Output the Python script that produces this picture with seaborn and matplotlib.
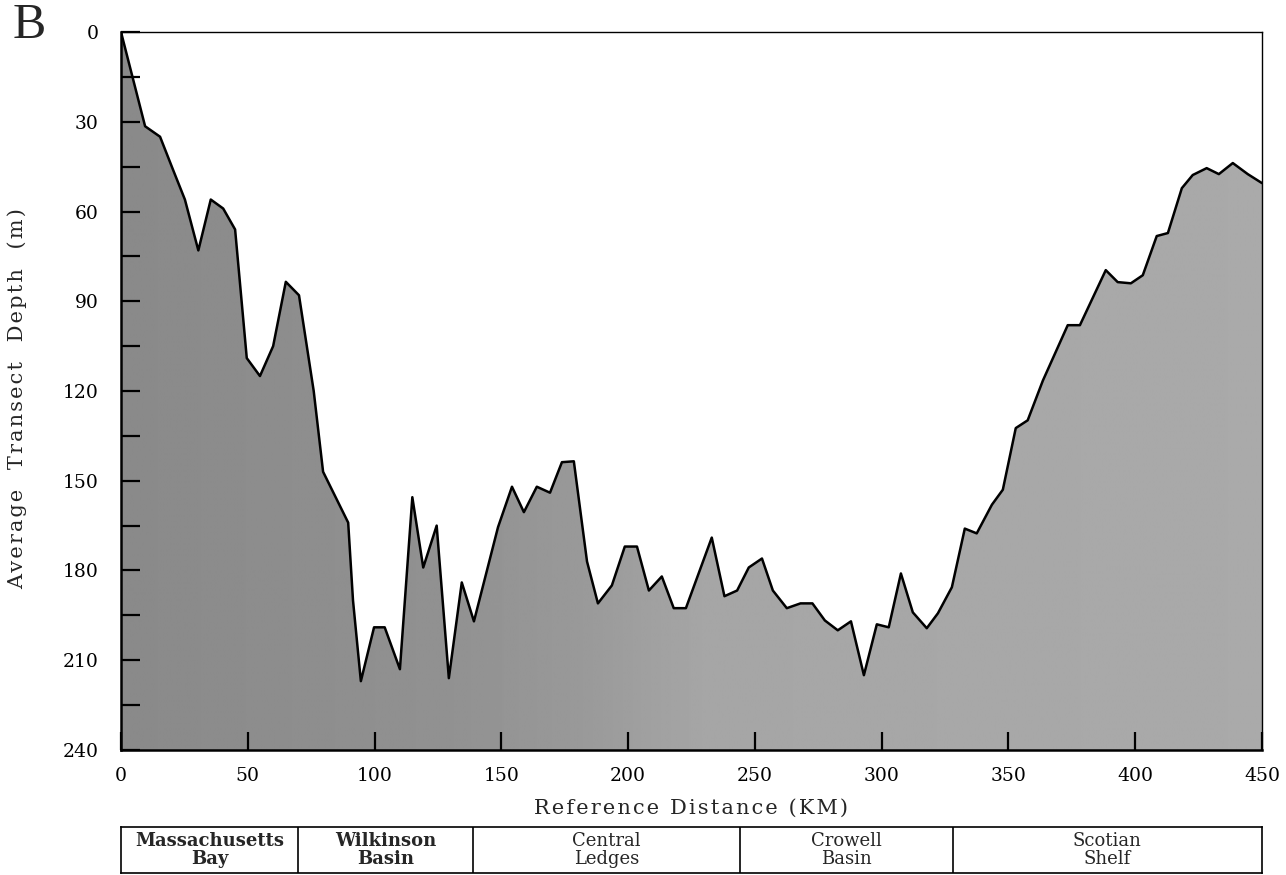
import numpy as np
import pandas as pd
import matplotlib
matplotlib.use("Agg")
import matplotlib.pyplot as plt
import seaborn as sns

# ---- data ----
distance_km = [0, 9.5, 15.4, 20.5, 25.2, 30.5, 35.4, 40.3, 45, 49.6, 54.8, 60, 65,
               70.2, 76, 79.7, 89.6, 91.5, 94.6, 99.8, 104, 110, 114.9, 119.2,
               124.5, 129.3, 134.4, 139.2, 148.7, 154.2, 158.9, 164, 169.2,
               173.9, 178.6, 183.8, 188.1, 193.6, 198.7, 203.5, 208.2, 213.3,
               218, 222.8, 233, 238, 243, 247.6, 252.8, 257.1, 262.6, 268,
               272.7, 277.6, 282.7, 287.9, 293, 298.1, 302.8, 307.6, 312.3,
               317.8, 322.2, 327.7, 332.8, 337.5, 343.5, 347.8, 352.9, 357.6,
               363.6, 373.4, 378.2, 388.4, 393.1, 398.3, 403, 408.5, 412.9,
               418.4, 422.7, 428.2, 433, 438.5, 444.4, 450]
depth_m = [0, 31.5, 35, 46, 56, 73, 56, 59, 66, 109, 115, 105, 83.5,
           88, 120, 147, 164, 190, 217, 199, 199, 213, 155.5, 179,
           165, 216, 184, 197, 165.5, 152, 160.5, 152, 154,
           143.8, 143.5, 177, 191, 185, 172, 172, 186.7, 182,
           192.6, 192.6, 169, 188.6, 186.7, 179, 176, 186.7, 192.6, 191,
           191, 196.7, 200, 197, 215, 198, 199, 181, 194,
           199.3, 194.3, 185.6, 166, 167.6, 158, 153, 132.4, 129.8,
           116.5, 98, 98, 79.6, 83.6, 84, 81.3, 68.2, 67.2,
           52.2, 47.8, 45.5, 47.5, 43.8, 47.5, 50.5]

region_names = ["Massachusetts\nBay", "Wilkinson\nBasin", "Central\nLedges",
                "Crowell\nBasin", "Scotian\nShelf"]
region_edges_km = [0, 70, 139, 244, 328, 450]

y_ticks = [0, 30, 60, 90, 120, 150, 180, 210, 240]
x_ticks = [0, 50, 100, 150, 200, 250, 300, 350, 400, 450]


def spaced(text, sep="\u200a"):
    return sep.join(list(text))


df = pd.DataFrame({"distance": distance_km, "depth": depth_m})

sns.set_theme(style="white")
plt.rcParams["font.family"] = ["DejaVu Serif", "DejaVu Sans"]

fig = plt.figure(figsize=(12.86, 8.75), dpi=100)
ax = fig.add_axes([0.0941, 0.1429, 0.8872, 0.8205])
ax.set_axisbelow(False)

# shaded seafloor with a left-to-right gray gradient
poly = ax.fill_between(df["distance"], df["depth"], 240, color="#999999", lw=0, zorder=1)
gx = np.array([0, 90, 130, 180, 230, 450])
gv = np.array([0.54, 0.56, 0.57, 0.60, 0.65, 0.665])
xs = np.linspace(0, 450, 451)
grad = np.interp(xs, gx, gv)[None, :].repeat(2, axis=0)
im = ax.imshow(grad, extent=[0, 450, 240, 0], aspect="auto", cmap="gray",
               vmin=0, vmax=1, zorder=2, interpolation="bilinear")
path = poly.get_paths()[0]
im.set_clip_path(path, transform=ax.transData)

sns.lineplot(data=df, x="distance", y="depth", color="black", lw=1.8, ax=ax,
             zorder=3, sort=False)

ax.set_xlim(0, 450)
ax.set_ylim(240, 0)
ax.set_xticks(x_ticks)
ax.set_yticks(y_ticks)
ax.set_yticks(np.arange(0, 241, 15), minor=True)
ax.tick_params(axis="both", which="both", direction="in", colors="black",
               labelsize=13.5)
ax.tick_params(axis="x", which="major", length=13, width=1.6, pad=12, bottom=True)
ax.tick_params(axis="y", which="major", length=14, width=1.6, pad=16, left=True)
ax.tick_params(axis="y", which="minor", length=14, width=1.6, left=True)
for s in ["left", "bottom"]:
    ax.spines[s].set_linewidth(1.8)
for s in ["top", "right"]:
    ax.spines[s].set_linewidth(1.0)
for s in ax.spines.values():
    s.set_color("black")
    s.set_zorder(5)

ax.set_xlabel(spaced("Reference Distance (KM)"), fontsize=15)
ax.set_ylabel(spaced("Average  Transect  Depth  (m)"), fontsize=15)
ax.xaxis.set_label_coords(0.5, -0.068)
ax.yaxis.set_label_coords(-0.082, 0.49)
ax.grid(False)

fig.text(0.010, 0.997, "B", fontsize=36, va="top", ha="left",
         family="Liberation Serif")

# region boxes
ax2 = fig.add_axes([0.0941, 0.002, 0.8872, 0.053])
ax2.set_xlim(0, 450)
ax2.set_ylim(0, 1)
ax2.set_xticks([])
ax2.set_yticks([])
for s in ax2.spines.values():
    s.set_color("black")
    s.set_linewidth(1.2)
ax2.vlines(region_edges_km[1:-1], 0, 1, color="black", lw=1.2)
for name, a, b in zip(region_names, region_edges_km[:-1], region_edges_km[1:]):
    ax2.text((a + b) / 2, 0.5, name, ha="center", va="center", fontsize=13,
             linespacing=0.95,
             fontweight="bold" if name.startswith(("Mass", "Wilk")) else "normal")

fig.savefig("out.png", dpi=100)
